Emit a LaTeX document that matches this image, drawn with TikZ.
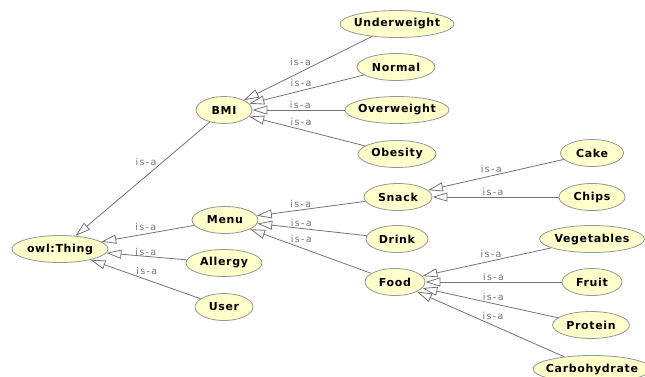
\documentclass[tikz,border=0pt]{standalone}
\usepackage{fontspec}
\usetikzlibrary{shapes.geometric,arrows.meta}
\newfontfamily\conceptfont[LetterSpace=6]{DejaVu Sans}
\newfontfamily\isafont[LetterSpace=14]{DejaVu Sans}
\definecolor{conceptfill}{RGB}{255,255,204}
\definecolor{conceptline}{RGB}{150,150,150}
\definecolor{isaline}{RGB}{115,115,115}
\tikzset{
	concept/.style={ellipse, draw=conceptline, fill=conceptfill, line width=0.8pt,
		inner xsep=-6pt, inner ysep=0pt, minimum height=27pt, minimum width=#1,
		font=\conceptfont\bfseries\fontsize{11}{13}\selectfont},
	concept/.default=56pt,
	isa/.style={draw=isaline, line width=0.8pt, {Triangle[open, length=15pt, width=9pt]}-},
	isalabel/.style={inner sep=0.5pt, text=isaline, font=\isafont\fontsize{9.5}{11}\selectfont}
}
\begin{document}
\begin{tikzpicture}[x=1pt,y=-1pt]
	\useasboundingbox (0,0) rectangle (645,376);
	
	% root
	\node[concept=96pt] (thing) at (60,249) {owl:Thing};
	
	% first level
	\node[concept=56pt] (bmi)     at (224,110) {BMI};
	\node[concept=66pt] (menu)    at (225,220) {Menu};
	\node[concept=76pt] (allergy) at (224,263) {Allergy};
	\node[concept=58pt] (user)    at (224,307) {User};
	
	% bmi classes
	\node[concept=114pt] (underweight) at (397,24)  {Underweight};
	\node[concept=78pt]  (normal)      at (396,67)  {Normal};
	\node[concept=104pt] (overweight)  at (397,110) {Overweight};
	\node[concept=78pt]  (obesity)     at (397,154) {Obesity};
	
	% menu classes
	\node[concept=68pt] (snack) at (398,197) {Snack};
	\node[concept=62pt] (drink) at (397,239) {Drink};
	\node[concept=60pt] (food)  at (395,282) {Food};
	
	% snack and food classes
	\node[concept=63pt]  (cake)         at (592,153) {Cake};
	\node[concept=66pt]  (chips)        at (592,197) {Chips};
	\node[concept=105pt] (vegetables)   at (592,239) {Vegetables};
	\node[concept=60pt]  (fruit)        at (592,282) {Fruit};
	\node[concept=77pt]  (protein)      at (591,325) {Protein};
	\node[concept=118pt] (carbohydrate) at (592,369) {Carbohydrate};
	
	% is-a links
	\draw[isa] (thing) -- node[isalabel,pos=0.61,anchor=south east] {is-a} (bmi);
	\draw[isa] (thing) -- node[isalabel,pos=0.60,anchor=south east] {is-a} (menu);
	\draw[isa] (thing) -- node[isalabel,pos=0.49,anchor=south] {is-a} (allergy);
	\draw[isa] (thing) -- node[isalabel,pos=0.41,anchor=south west] {is-a} (user);
	
	\draw[isa] (bmi) -- node[isalabel,pos=0.53,anchor=south east] {is-a} (underweight);
	\draw[isa] (bmi) -- node[isalabel,pos=0.55,anchor=south east] {is-a} (normal);
	\draw[isa] (bmi) -- node[isalabel,pos=0.52,anchor=south] {is-a} (overweight);
	\draw[isa] (bmi) -- node[isalabel,pos=0.35,anchor=south west] {is-a} (obesity);
	
	\draw[isa] (menu) -- node[isalabel,pos=0.51,anchor=south east] {is-a} (snack);
	\draw[isa] (menu) -- node[isalabel,pos=0.30,anchor=south west] {is-a} (drink);
	\draw[isa] (menu) -- node[isalabel,pos=0.33,anchor=south west] {is-a} (food);
	
	\draw[isa] (snack) -- node[isalabel,pos=0.55,anchor=south east] {is-a} (cake);
	\draw[isa] (snack) -- node[isalabel,pos=0.48,anchor=south] {is-a} (chips);
	
	\draw[isa] (food) -- node[isalabel,pos=0.62,anchor=south east] {is-a} (vegetables);
	\draw[isa] (food) -- node[isalabel,pos=0.50,anchor=south] {is-a} (fruit);
	\draw[isa] (food) -- node[isalabel,pos=0.44,anchor=south west] {is-a} (protein);
	\draw[isa] (food) -- node[isalabel,pos=0.44,anchor=south west] {is-a} (carbohydrate);
\end{tikzpicture}
\end{document}
